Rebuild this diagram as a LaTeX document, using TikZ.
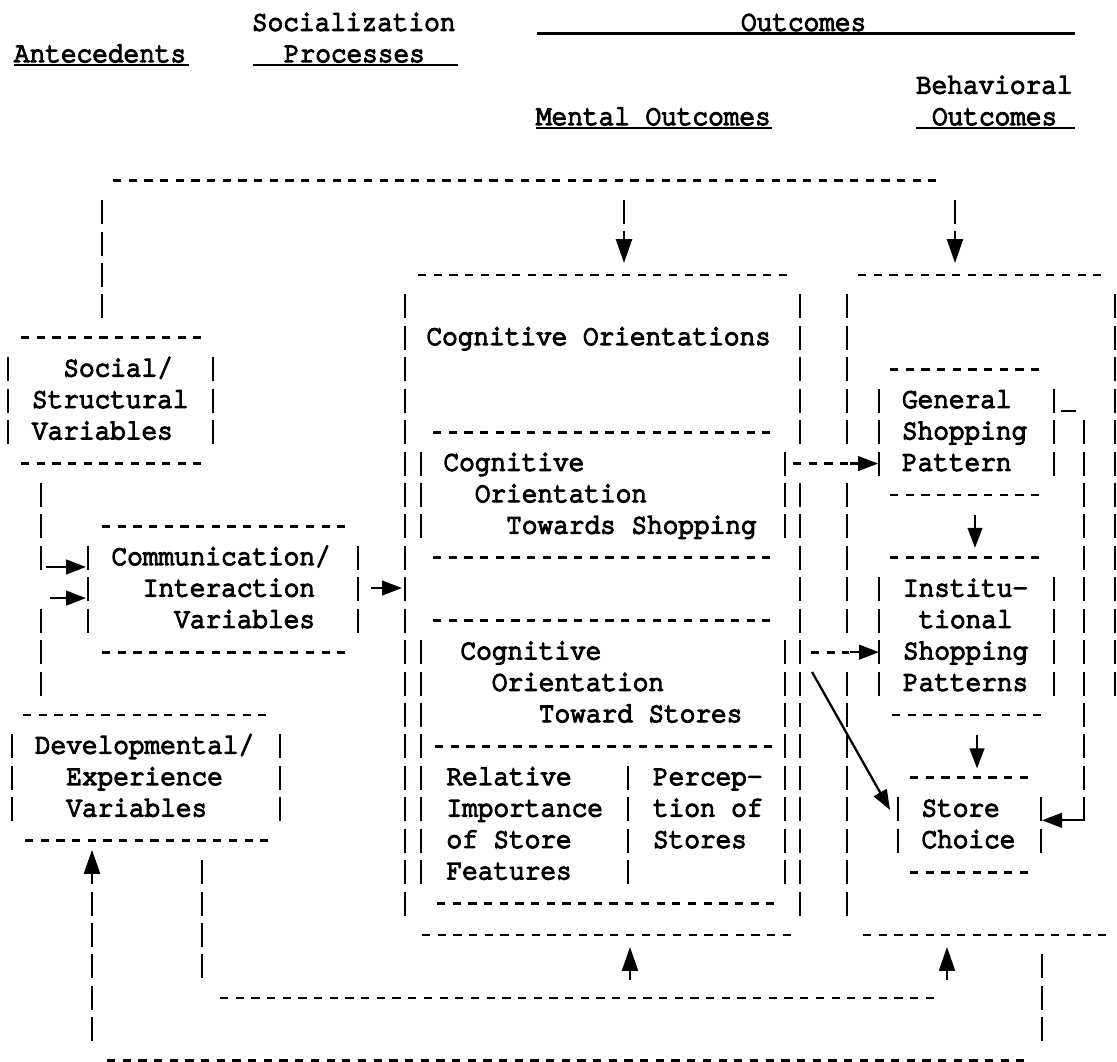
\documentclass[tikz,border=0pt]{standalone}
\usepackage{fontspec}
\usetikzlibrary{arrows.meta}
% typewriter face: Courier clone, heavier like a ribbon impression
\newfontfamily\tw[FakeBold=5,FakeStretch=0.91]{texgyrecursor-regular.otf}
\newlength\cw \setlength\cw{11.76pt}
% one text line, indented by #1 character cells
\newcommand\tl[2][0]{\hbox{\hskip#1\cw\relax #2}}
\newcommand\lines[1]{\vtop{\baselineskip=23.5725pt\lineskiplimit=-100pt\lineskip=0pt #1}}
% baseline and underline offsets (in rows)
\def\bl{0.2227}
\def\ul{0.318}
% horizontal typed rule of #2 hyphens starting at x=#1 on row #3
\newcommand\hd[3]{\draw[hy] (#1,#3) -- ++({15.68*#2-7.68},0);}
% vertical typed rule of bars at x=#1 from row #2 to row #3
\newcommand\vb[3]{\draw[bar] (#1,#2-0.382) -- (#1,#3+0.382);}
\begin{document}
\begin{tikzpicture}[x=0.75pt,y=-23.5725pt,
  txt/.style={inner sep=0pt,outer sep=0pt,anchor=base west,font=\tw\fontsize{21.5pt}{23.57pt}\selectfont},
  hy/.style={line width=2.1pt,dash pattern=on 6.2pt off 5.56pt},
  bar/.style={line width=1.9pt,dash pattern=on 18pt off 5.5725pt},
  ul/.style={line width=1.6pt},
  arr/.style={line width=1.8pt,-{Triangle[length=18pt,width=12pt]}},
  darr/.style={line width=1.7pt,-{Triangle[length=15pt,width=11pt]}}]

\fill[white] (0,-8.7496) rectangle (1117,25.008);
\useasboundingbox (0,-8.7496) rectangle (1117,25.008);

% ---------------- headings ----------------
\node[txt] (hSoc) at (252,-8+\bl) {Socialization};
\node[txt] (hOut) at (741,-8+\bl) {Outcomes};
\node[txt] (hAnt) at (14,-7+\bl) {Antecedents};
\node[txt] (hPro) at (284,-7+\bl) {Processes};
\node[txt] (hBeh) at (916,-6+\bl) {Behavioral};
\node[txt] (hMen) at (536,-5+\bl) {Mental Outcomes};
\node[txt] (hBeO) at (932,-5+\bl) {Outcomes};
\draw[ul] (537,-8+\ul) -- (1075,-8+\ul);
\draw[ul] (14,-7+\ul) -- (189,-7+\ul);
\draw[ul] (252.5,-7+\ul) -- (458,-7+\ul);
\draw[ul] (536,-5+\ul) -- (772,-5+\ul);
\draw[ul] (916,-5+\ul) -- (1075,-5+\ul);

% ---------------- top link from social/structural ----------------
\hd{113}{53}{-3}
\vb{102}{-2}{1}
\vb{624}{-2}{-2}
\vb{955}{-2}{-2}
\coordinate (mTopA) at (624,-1.40);  \coordinate (mTopB) at (624,-0.38);
\coordinate (bTopA) at (955,-1.40);  \coordinate (bTopB) at (955,-0.38);
\draw[arr] (mTopA) -- (mTopB);
\draw[arr] (bTopA) -- (bTopB);

% ---------------- social / structural ----------------
\hd{21}{12}{2}
\hd{21}{12}{6}
\vb{8}{3}{5}
\vb{213}{3}{5}
\node[txt] (social) at (32,3+\bl) {\lines{\tl[2]{Social/}\tl{Structural}\tl{Variables}}};

% ---------------- communication / interaction ----------------
\hd{102}{16}{8}
\hd{102}{16}{12}
\vb{88}{9}{11}
\vb{358}{9}{11}
\node[txt] (comm) at (111.5,9+\bl) {\lines{\tl{Communication/}\tl[2]{Interaction}\tl[4]{Variables}}};
\vb{41}{7}{9}
\vb{41}{11}{13}
\coordinate (inA1) at (46,9.29);  \coordinate (inB1) at (86,9.29);
\coordinate (inA2) at (50,10.28); \coordinate (inB2) at (86,10.28);
\coordinate (outA) at (371,9.96); \coordinate (outB) at (402,9.96);
\draw[darr] (inA1) -- (inB1);
\draw[darr] (inA2) -- (inB2);
\draw[darr] (outA) -- (outB);

% ---------------- developmental / experience ----------------
\hd{23}{16}{14}
\hd{25}{16}{18}
\vb{12}{15}{17}
\vb{280}{15}{17}
\node[txt] (dev) at (35,15+\bl) {\lines{\tl{Developmental/}\tl[2]{Experience}\tl[2]{Variables}}};

% ---------------- mental outcomes ----------------
\hd{418}{24}{0}
\vb{405}{1}{20}
\vb{800}{1}{5}
\vb{800}{7}{20}
\node[txt] (cogOr) at (426.5,2+\bl) {Cognitive Orientations};
\hd{433}{22}{5}
\vb{421}{6}{8}
\vb{785}{6}{8}
\node[txt] (cogShop) at (443.5,6+\bl) {\lines{\tl{Cognitive}\tl[2]{Orientation}\tl[4]{Towards Shopping}}};
\hd{433}{22}{9}
\hd{433}{22}{11}
\vb{421}{12}{19}
\vb{785}{12}{19}
\node[txt] (cogStore) at (460.5,12+\bl) {\lines{\tl{Cognitive}\tl[2]{Orientation}\tl[5]{Toward Stores}}};
\hd{435}{22}{15}
\vb{628}{16}{19}
\node[txt] (relImp) at (446.5,16+\bl) {\lines{\tl{Relative}\tl{Importance}\tl{of Store}\tl{Features}}};
\node[txt] (percep) at (653,16+\bl) {\lines{\tl{Percep-}\tl{tion of}\tl{Stores}}};
\hd{437}{22}{20}
\hd{422}{24}{21}

% ---------------- behavioral outcomes ----------------
\hd{858}{16}{0}
\vb{847}{1}{5}
\vb{847}{7}{11}
\vb{847}{13}{20}
\vb{1115}{1}{13}
\hd{890}{10}{3}
\hd{890}{10}{7}
\vb{879}{4}{6}
\vb{1054}{4}{6}
\node[txt] (genShop) at (902,4+\bl) {\lines{\tl{General}\tl{Shopping}\tl{Pattern}}};
\hd{890}{10}{9}
\hd{892}{10}{14}
\vb{879}{10}{13}
\vb{1054}{10}{13}
\node[txt] (instShop) at (903,10+\bl) {\lines{\tl{Institu-}\tl[1]{tional}\tl{Shopping}\tl{Patterns}}};
\hd{910}{8}{16}
\hd{910}{8}{19}
\vb{898}{17}{18}
\vb{1041}{17}{18}
\node[txt] (choice) at (921.5,17+\bl) {\lines{\tl{Store}\tl{Choice}}};
\hd{863}{16}{21}

% links inside behavioral outcomes
\draw[ul] (1061,4+\ul) -- (1076,4+\ul);
\vb{1084}{5}{17}
\coordinate (fbA) at (1083,17.35); \coordinate (fbB) at (1042,17.35);
\draw[darr] (fbA) -- (fbB);
\coordinate (gA) at (975,7.62);  \coordinate (gB) at (975,8.68);
\coordinate (iA) at (977,14.62); \coordinate (iB) at (977,15.70);
\draw[darr] (gA) -- (gB);
\draw[darr] (iA) -- (iB);

% links from mental to behavioral outcomes
\draw[hy] (793,6) -- (848,6);
\coordinate (s1A) at (850,6);  \coordinate (s1B) at (878,6);
\draw[darr] (s1A) -- (s1B);
\draw[hy] (811,12) -- (849,12);
\coordinate (s2A) at (850,12); \coordinate (s2B) at (879,12);
\draw[darr] (s2A) -- (s2B);
\coordinate (dgA) at (812,12.63); \coordinate (dgB) at (890,17.02);
\draw[darr] (dgA) -- (dgB);

% ---------------- bottom links ----------------
\vb{202}{19}{22}
\hd{220}{46}{23}
\coordinate (mBotA) at (630,22.43); \coordinate (mBotB) at (630,21.38);
\coordinate (bBotA) at (947,22.43); \coordinate (bBotB) at (947,21.38);
\draw[arr] (mBotA) -- (mBotB);
\draw[arr] (bBotA) -- (bBotB);
\vb{1042}{22}{24}
\hd{107}{59}{25}
\vb{92}{20}{24}
\coordinate (dvA) at (92,19.38); \coordinate (dvB) at (92,18.29);
\draw[arr] (dvA) -- (dvB);
\end{tikzpicture}
\end{document}
